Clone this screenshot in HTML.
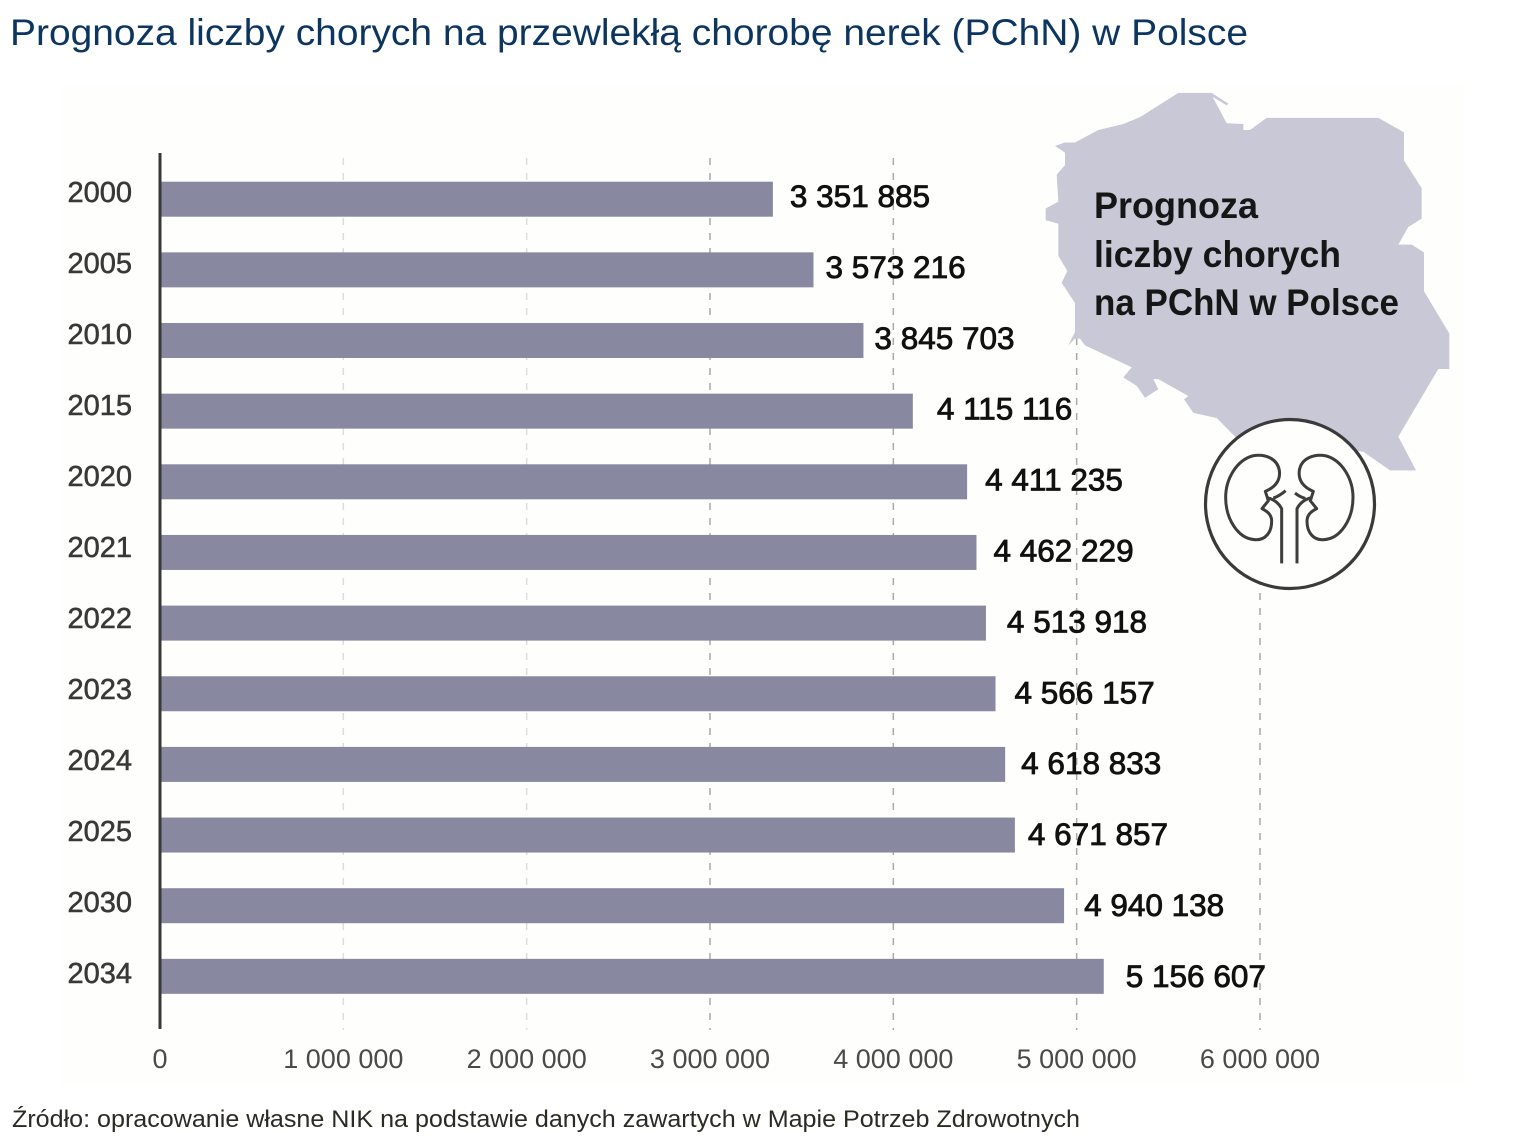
<!DOCTYPE html>
<html lang="pl">
<head>
<meta charset="utf-8">
<title>Prognoza liczby chorych na PChN w Polsce</title>
<style>
  html, body { margin: 0; padding: 0; background: #ffffff; }
  svg { display: block; font-family: "Liberation Sans", "DejaVu Sans", sans-serif; }
</style>
</head>
<body>
<svg id="chart" xmlns="http://www.w3.org/2000/svg" width="1520" height="1140" viewBox="0 0 1520 1140">
  <rect x="0" y="0" width="1520" height="1140" fill="#ffffff"/>
  <rect x="60" y="85" width="1405" height="1000" fill="#fefefc"/>
  <text x="10" y="45" font-size="37" fill="#0c3560" textLength="1238" lengthAdjust="spacingAndGlyphs">Prognoza liczby chorych na przewlekłą chorobę nerek (PChN) w Polsce</text>
  <g id="grid"></g>
  <g id="map-group">
    <polygon fill="#c9c8d6" transform="translate(1030 80) scale(0.33333 0.338)" points="445,38 545,38 595,70 590,75 548,50 590,128 640,130 640,148 660,148 710,112 1045,112 1122,155 1122,238 1175,320 1175,410 1135,435 1105,487 1145,487 1182,510 1182,625 1258,750 1258,855 1225,855 1105,1055 1158,1155 1080,1155 1000,1100 620,1060 560,1000 490,985 462,945 475,935 385,885 370,885 385,915 345,940 320,905 280,880 305,850 165,785 150,765 135,765 115,785 135,745 135,660 95,600 112,565 85,520 85,425 47,415 47,380 85,360 80,280 105,252 70,240 105,252 105,215 75,195 105,185 135,185 205,148 280,130 330,110"/>
    <text x="1094" y="218" font-size="37" font-weight="bold" fill="#161616" textLength="164" lengthAdjust="spacingAndGlyphs">Prognoza</text>
    <text x="1094" y="267" font-size="37" font-weight="bold" fill="#161616" textLength="247" lengthAdjust="spacingAndGlyphs">liczby chorych</text>
    <text x="1094" y="315" font-size="37" font-weight="bold" fill="#161616" textLength="305" lengthAdjust="spacingAndGlyphs">na PChN w Polsce</text>
  </g>
  <g id="bars"></g>
  <g id="value-labels"></g>
  <g id="year-labels"></g>
  <g id="tick-labels"></g>
  <rect x="158.5" y="153" width="3" height="876" fill="#383838"/>
  <g>
    <circle cx="1290" cy="504" r="84.5" fill="#fefefd" stroke="#3a3a3a" stroke-width="3.2"/>
    <g transform="translate(1030 80) scale(0.33333 0.338)" fill="none" stroke="#3d3d3d" stroke-width="9" stroke-linejoin="round" stroke-linecap="butt">
      <path d="M706 1217 C735 1205 752 1185 748 1155 C742 1120 705 1105 668 1112 C620 1125 587 1180 587 1235 C587 1300 625 1358 675 1360 C705 1362 725 1340 725 1305 C725 1285 710 1275 696 1268 L715 1245 Z"/>
      <path d="M755 1430 L755 1268 C745 1250 730 1240 712 1236 M767 1215 C755 1225 745 1232 730 1237"/>
      <path d="M850 1217 C821 1205 804 1185 808 1155 C814 1120 851 1105 888 1112 C936 1125 969 1180 969 1235 C969 1300 931 1358 881 1360 C851 1362 831 1340 831 1305 C831 1285 846 1275 860 1268 L841 1245 Z"/>
      <path d="M801 1430 L801 1268 C811 1250 826 1240 844 1236 M795 1222 C805 1230 815 1235 826 1238"/>
    </g>
  </g>
  <text x="12" y="1127" font-size="24" fill="#2b2b22" textLength="1068" lengthAdjust="spacingAndGlyphs">Źródło: opracowanie własne NIK na podstawie danych zawartych w Mapie Potrzeb Zdrowotnych</text>
</svg>
<script>
const years = ["2000","2005","2010","2015","2020","2021","2022","2023","2024","2025","2030","2034"];
const patients = [3351885,3573216,3845703,4115116,4411235,4462229,4513918,4566157,4618833,4671857,4940138,5156607];
const xTicks = [0,1000000,2000000,3000000,4000000,5000000,6000000];
const labelGaps = [17,12,11,24,18,17,21,19,16,13,20,22];

const NS = 'http://www.w3.org/2000/svg';
const x = v => 160 + v * 183.33 / 1000000;
const barEnd = v => x(v) - 1.6;
const barTop = i => 181.7 + i * 70.65;
const yearBase = i => 202 + i * 71;
const valueBase = i => 207 + i * 70.9;
const fmt = v => String(v).replace(/\B(?=(\d{3})+(?!\d))/g, ' ');
function make(tag, parent) {
  const el = document.createElementNS(NS, tag);
  parent.appendChild(el);
  return el;
}

const gridG = document.getElementById('grid');
xTicks.forEach(function (t, idx) {
  if (t === 0) return;
  const line = make('line', gridG);
  
  
  line.setAttribute('x1', x(t));
  line.setAttribute('x2', x(t));
  line.setAttribute('y1', 158);
  line.setAttribute('y2', 1030);
  line.setAttribute('stroke', idx <= 2 ? '#dddddd' : '#a9a9a9');
  line.setAttribute('stroke-width', 1.5);
  line.setAttribute('stroke-dasharray', '7 8');
});

const barsG = document.getElementById('bars');
const valuesG = document.getElementById('value-labels');
const yearsG = document.getElementById('year-labels');
years.forEach(function (year, i) {
  const bar = make('rect', barsG);
  
  
  bar.setAttribute('x', 161.5);
  bar.setAttribute('y', barTop(i));
  bar.setAttribute('width', barEnd(patients[i]) - 161.5);
  bar.setAttribute('height', 35);
  bar.setAttribute('fill', '#8888a0');

  const val = make('text', valuesG);
  
  
  val.setAttribute('x', barEnd(patients[i]) + labelGaps[i]);
  val.setAttribute('y', valueBase(i));
  val.setAttribute('font-size', 31.5);
  val.setAttribute('fill', '#111111');
  val.setAttribute('stroke', '#111111');
  val.setAttribute('stroke-width', 0.85);
  val.textContent = fmt(patients[i]);

  const yl = make('text', yearsG);
  
  
  yl.setAttribute('x', 132);
  yl.setAttribute('y', yearBase(i));
  yl.setAttribute('font-size', 29);
  yl.setAttribute('text-anchor', 'end');
  yl.setAttribute('fill', '#383838');
  yl.setAttribute('stroke', '#383838');
  yl.setAttribute('stroke-width', 0.55);
  yl.textContent = year;
});

const ticksG = document.getElementById('tick-labels');
xTicks.forEach(function (t) {
  const tl = make('text', ticksG);
  
  
  tl.setAttribute('x', x(t));
  tl.setAttribute('y', 1068);
  tl.setAttribute('font-size', 27);
  tl.setAttribute('text-anchor', 'middle');
  tl.setAttribute('fill', '#4a4a4a');
  tl.textContent = fmt(t);
});
</script>
</body>
</html>
